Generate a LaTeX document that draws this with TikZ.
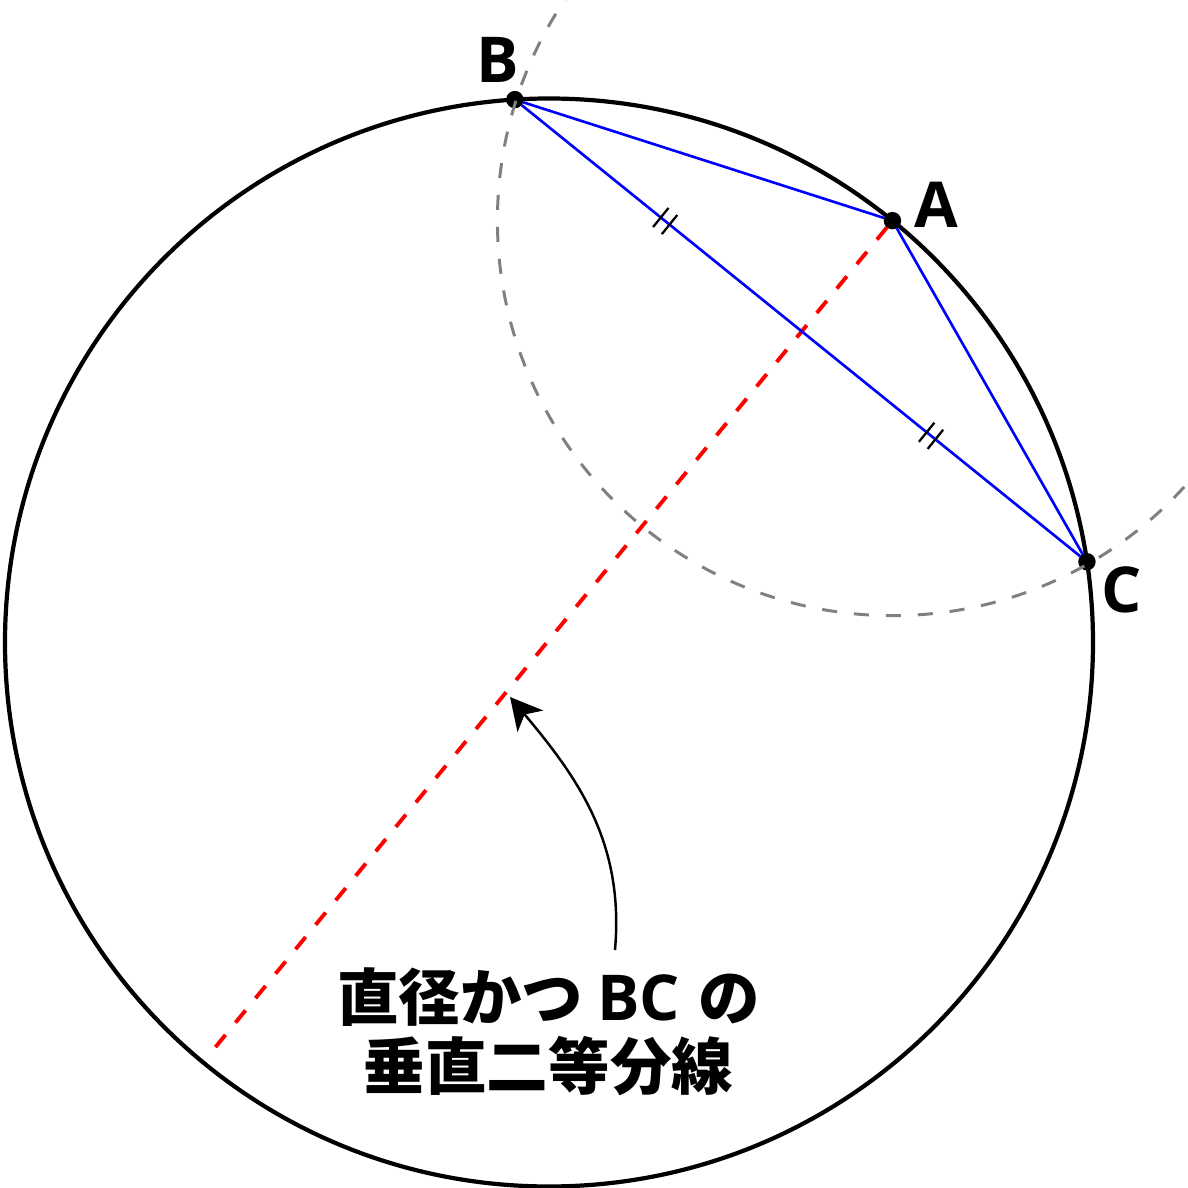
\documentclass[tikz,border=0pt]{standalone}
\usepackage{fontspec}
\setmainfont{Open Sans}
\newfontfamily\jp{Noto Sans CJK JP}
\usetikzlibrary{arrows.meta,calc,decorations.markings}

\begin{document}
\begin{tikzpicture}
\tikzset{pt/.style={draw, circle, fill, inner sep=0pt, minimum size=0.16cm},
  lettre/.style={font=\fontsize{18}{20}\selectfont\bfseries},
  cote/.style={blue, line width=0.75pt},
  marque/.style={postaction={decorate}, decoration={markings,
    mark=at position 0.257 with {\draw[black, line width=0.65pt] (-1.6pt,-3.5pt) -- (-1.6pt,3.5pt) (1.6pt,-3.5pt) -- (1.6pt,3.5pt);},
    mark=at position 0.733 with {\draw[black, line width=0.65pt] (-1.6pt,-3.5pt) -- (-1.6pt,3.5pt) (1.6pt,-3.5pt) -- (1.6pt,3.5pt);}}},
  arc/.style={gray, line width=0.85pt, dash pattern=on 4.3pt off 4.8pt},
  mediatrice/.style={red, line width=1.1pt, dash pattern=on 4.5pt off 4.5pt},
  texte/.style={align=center, font=\jp\bfseries\fontsize{17.5}{19.6}\selectfont},
  fleche/.style={line width=0.7pt, -{Stealth[length=9pt, width=9.5pt, inset=2.5pt]}}}
\useasboundingbox (0,0) rectangle (11.88,11.88);
\clip (0,0) rectangle (11.88,11.88);
\coordinate (O) at (5.49,5.455);
\node[pt] (A) at ($(O)+(50.85:5.44)$) {};
\node[pt] (B) at ($(O)+(93.6:5.44)$) {};
\node[pt] (C) at ($(O)+(8.54:5.44)$) {};
\coordinate (D) at ($(O)+(230.5:5.30)$);
\draw[line width=1.2pt] (O) circle (5.44);
\draw[arc] (A) circle (3.95);
\draw[mediatrice] (A) -- (D);
\draw[cote] (B) -- (A);
\draw[cote] (A) -- (C);
\draw[cote, marque] (B) -- (C);
\node[lettre] (lA) at (9.36,9.83) {A};
\node[lettre] (lB) at (4.98,11.28) {B};
\node[lettre] (lC) at (11.22,5.98) {C};
\node[texte] (note) at (5.485,1.56) {直径かつ\hspace{0.14cm}{\rmfamily\fontsize{18}{19.6}\selectfont BC}\hspace{0.18cm}の\\垂直二等分線};
\coordinate (queue) at (6.15,2.38);
\coordinate (pied) at (5.10,4.91);
\draw[fleche] (queue) to[out=85, in=-50] (pied);
\end{tikzpicture}
\end{document}
